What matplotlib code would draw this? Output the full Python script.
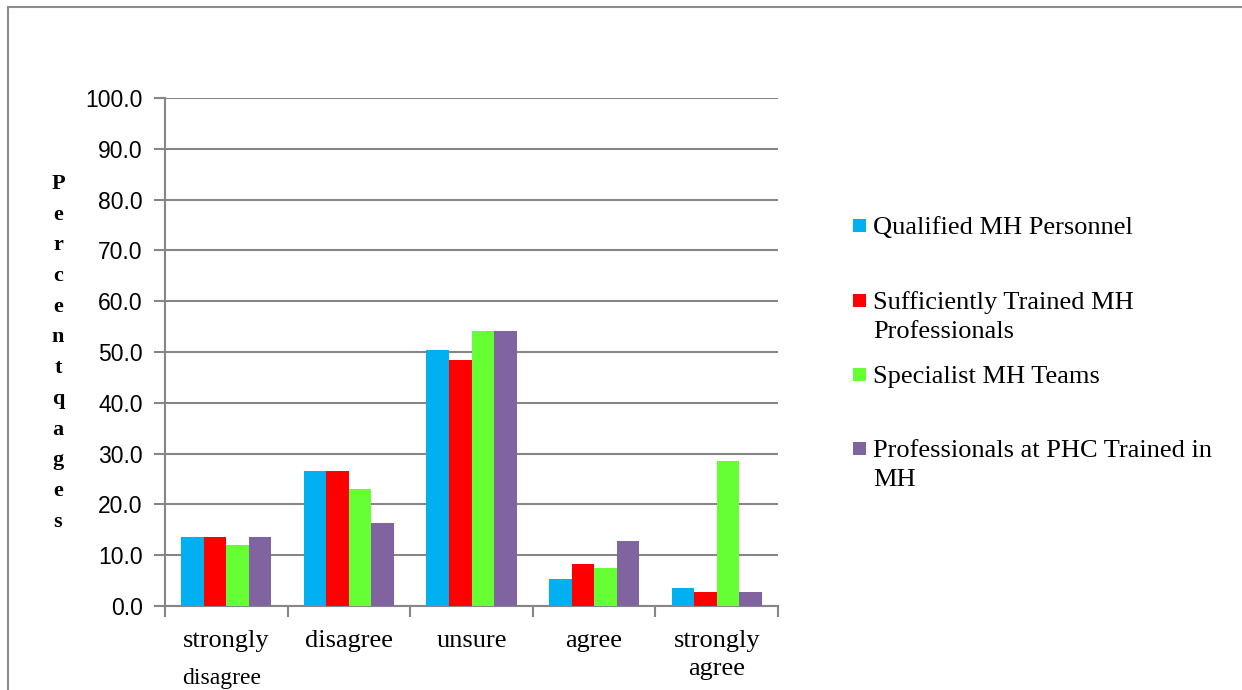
import matplotlib.pyplot as plt
from matplotlib.patches import Rectangle
import numpy as np

categories = ["strongly\ndisagree", "disagree", "unsure", "agree", "strongly\nagree"]
series_names = [
    "Qualified MH Personnel",
    "Sufficiently Trained MH\nProfessionals",
    "Specialist MH Teams",
    "Professionals at PHC Trained in\nMH",
]
qualified = [13.6, 26.5, 50.3, 5.4, 3.5]
trained = [13.6, 26.5, 48.4, 8.2, 2.7]
specialist = [12.0, 23.0, 54.2, 7.4, 28.5]
phc = [13.6, 16.4, 54.1, 12.7, 2.7]
colors = ["#00B0F0", "#FF0000", "#66FF33", "#8064A2"]
y_ticks = [0, 10, 20, 30, 40, 50, 60, 70, 80, 90, 100]

W, H = 1242, 690
fig = plt.figure(figsize=(W / 100, H / 100), dpi=100)
ax = fig.add_axes([165 / W, 1 - 606 / H, (778 - 165) / W, (606 - 98) / H])

grid_c = "#868686"
serif = "Liberation Serif"
values = [qualified, trained, specialist, phc]
x = np.arange(len(categories))
bw = 0.184
for i, (vals, c) in enumerate(zip(values, colors)):
    ax.bar(x + (i - 1.5) * bw, vals, width=bw, color=c, zorder=3)

ax.set_xlim(-0.5, len(categories) - 0.5)
ax.set_ylim(0, 100)
ax.set_yticks(y_ticks)
ax.set_yticklabels([f"{v:.1f}" for v in y_ticks], fontsize=16.5,
                   family="Liberation Sans")
ax.yaxis.grid(True, color=grid_c, linewidth=1.5, zorder=0)

ax.set_xticks(np.arange(len(categories) + 1) - 0.5)
ax.set_xticklabels([])
ax.tick_params(axis="x", length=8, width=1.5, color=grid_c)
ax.tick_params(axis="y", length=8, width=1.5, color=grid_c, pad=8)

for s in ["top", "right"]:
    ax.spines[s].set_visible(False)
for s in ["left", "bottom"]:
    ax.spines[s].set_color(grid_c)
    ax.spines[s].set_linewidth(1.5)

# category labels (second lines sit a bit lower/smaller like the original)
px = 1 / 508  # one pixel in axes-y units
for xi, cat in zip(x, categories):
    lines = cat.split("\n")
    ax.text(xi, -41 * px, lines[0], fontsize=19, family=serif, ha="center",
            va="baseline", transform=ax.get_xaxis_transform(), clip_on=False)
    if len(lines) > 1:
        if xi == 0:
            ax.text(xi - 0.04, -78 * px, lines[1], fontsize=17, family=serif,
                    ha="center", va="baseline",
                    transform=ax.get_xaxis_transform(), clip_on=False)
        else:
            ax.text(xi, -69 * px, lines[1], fontsize=19, family=serif,
                    ha="center", va="baseline",
                    transform=ax.get_xaxis_transform(), clip_on=False)

# vertical y label, one letter per line
label = "Percentqages"
for k, ch in enumerate(label):
    fig.text(58 / W, 1 - (184 + k * 30.7) / H, ch, fontsize=16, fontweight="bold",
             family=serif, ha="center", va="center")

# legend
legend_base = [234, 309, 383, 457]
for name, c, yy in zip(series_names, colors, legend_base):
    fig.patches.append(Rectangle((853 / W, 1 - (yy - 2) / H), 13 / W, 13 / H,
                                 facecolor=c, transform=fig.transFigure,
                                 figure=fig))
    for j, line in enumerate(name.split("\n")):
        fig.text(873 / W, 1 - (yy + j * 29.5) / H, line, fontsize=19,
                 family=serif, ha="left", va="baseline")

# outer frame
fig.patches.append(Rectangle((8 / W, -0.05), 1.1, 1 - 7 / H + 0.05, fill=False,
                             edgecolor="#8c8c8c", linewidth=1.5,
                             transform=fig.transFigure, figure=fig))

fig.savefig("out.png", dpi=100)
